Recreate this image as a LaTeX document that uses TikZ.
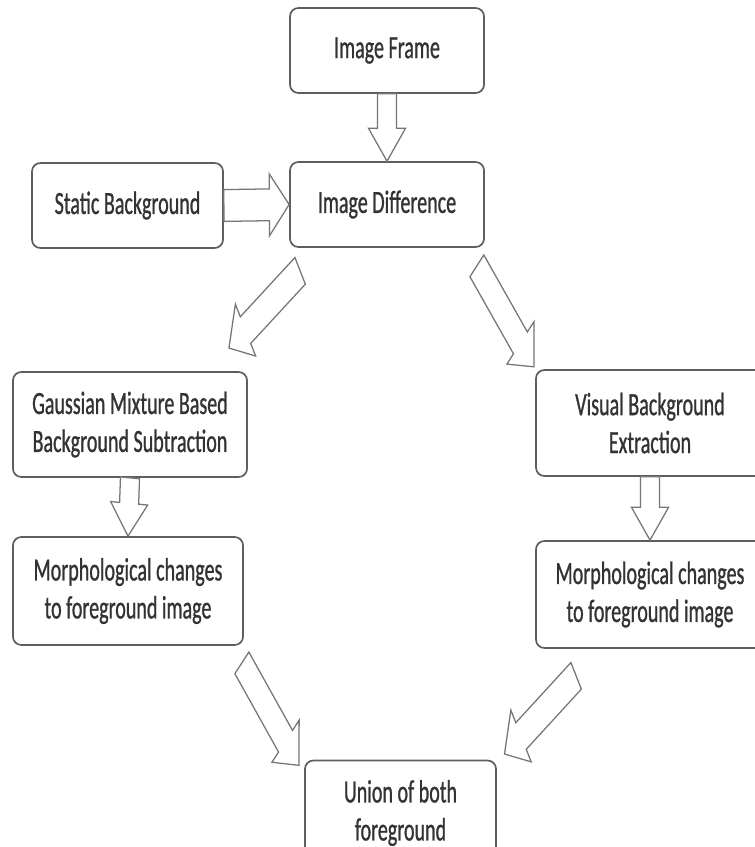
\documentclass[tikz,border=0pt]{standalone}
\usepackage{fontspec}
\setmainfont{Carlito}[FakeStretch=0.62, FakeBold=0.8]
\usepackage{xcolor}
\usepackage{tikz}
\usetikzlibrary{arrows,positioning,calc}
\definecolor{boxgray}{HTML}{5E5E5E}
\definecolor{arrgray}{HTML}{767676}
\newcommand{\stagefont}{\fontsize{23}{27}\selectfont}
\newcommand{\fatarrow}[2]{%
\draw[fatarr] let \p1=(#1), \p2=(#2),
  \n1={atan2(\y2-\y1,(\x2-\x1)/0.6)},
  \n2={veclen((\x2-\x1)/0.6,\y2-\y1)} in
  [shift={(\p1)}, xscale=0.6, rotate=\n1]
  (0pt,-11.3pt) -- ({\n2-23.4pt},-11.3pt) -- ({\n2-23.4pt},-22pt) -- (\n2,0pt)
  -- ({\n2-23.4pt},22pt) -- ({\n2-23.4pt},11.3pt) -- (0pt,11.3pt) -- cycle;}

\begin{document}
\begin{tikzpicture}[x=0.025cm, y=-0.025cm,
stage/.style={draw=boxgray, line width=1.2pt, rounded corners=6pt, fill=white,
  align=center, text=black!80, font=\stagefont, inner sep=2pt},
fatarr/.style={draw=arrgray, line width=0.9pt, fill=white, line join=miter}]
\useasboundingbox (0,0) rectangle (755,847);
\clip (0,0) rectangle (755,847);
\fill[white] (0,0) rectangle (755,847);

\node[stage, minimum width=4.85cm, minimum height=2.125cm] (frame) at (387,50.5) {Image Frame};
\node[stage, minimum width=4.775cm, minimum height=2.125cm] (static) at (127.5,205.5) {Static Background};
\node[stage, minimum width=4.85cm, minimum height=2.125cm] (diff) at (387,204.5) {Image Difference};
\node[stage, minimum width=5.85cm, minimum height=2.625cm] (gauss) at (130,424.5) {Gaussian Mixture Based\\Background Subtraction};
\node[stage, minimum width=5.75cm, minimum height=2.7cm] (morphl) at (128,591) {Morphological changes\\to foreground image};
\node[stage, minimum width=5.7cm, minimum height=2.65cm] (vibe) at (650,423) {Visual Background\\Extraction};
\node[stage, minimum width=5.7cm, minimum height=2.675cm] (morphr) at (650,594.5) {Morphological changes\\to foreground image};
\node[stage, minimum width=4.775cm, minimum height=2.625cm] (union) at (400.5,813) {Union of both\\foreground};

\coordinate (c1) at ([shift={(11,23)}]diff.south west);
\coordinate (c2) at ([shift={(-19,-23)}]gauss.north east);
\coordinate (d1) at ([shift={(-8,18)}]diff.south east);
\coordinate (d2) at ([shift={(-1,-2)}]vibe.north west);
\coordinate (e1) at ([shift={(-2,17)}]morphl.south east);
\coordinate (e2) at ([shift={(-5,6)}]union.north west);
\coordinate (f1) at ([shift={(41,27)}]morphr.south west);
\coordinate (f2) at ([shift={(7.5,-5.5)}]union.north east);

\fatarrow{frame.south}{diff.north}
\fatarrow{static.east}{diff.west}
\fatarrow{c1}{c2}
\fatarrow{d1}{d2}
\fatarrow{gauss.south}{morphl.north}
\fatarrow{vibe.south}{morphr.north}
\fatarrow{e1}{e2}
\fatarrow{f1}{f2}
\end{tikzpicture}
\end{document}
